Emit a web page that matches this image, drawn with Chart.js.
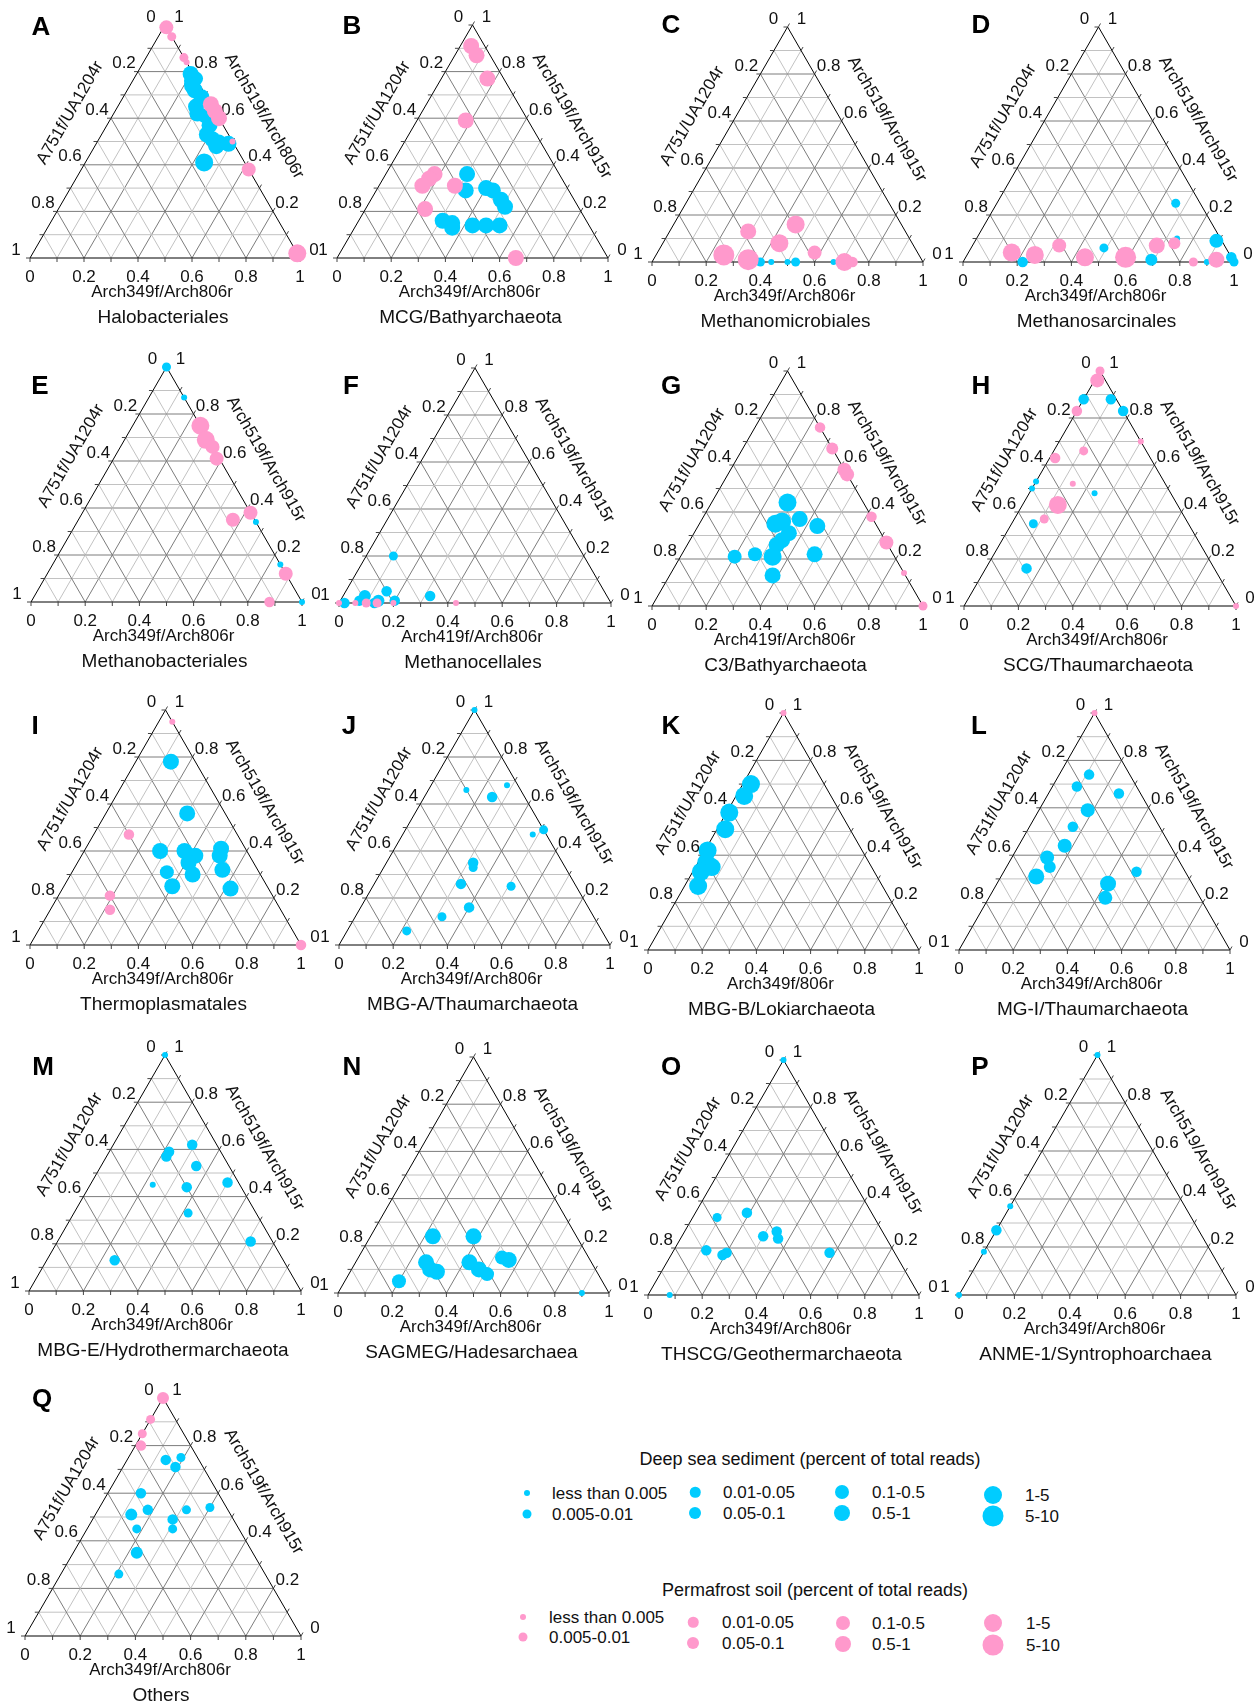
<!DOCTYPE html>
<html>
<head>
<meta charset="utf-8">
<title>Ternary plots of archaeal primer-pair coverage</title>
<script src="https://cdn.jsdelivr.net/npm/chart.js@4.4.1/dist/chart.umd.min.js"></script>
<style>
  html, body { margin: 0; padding: 0; background: #fff; }
  #page { position: relative; width: 1260px; height: 1704px; overflow: hidden;
          font-family: "Liberation Sans", Arial, sans-serif; color: #111; }
  #page canvas { position: absolute; }
  .lg-title { position: absolute; font-size: 18px; transform: translate(-50%, -50%); white-space: nowrap; }
  .lg-dot { position: absolute; border-radius: 50%; transform: translate(-50%, -50%); }
  .lg-text { position: absolute; font-size: 17px; transform: translateY(-50%); white-space: nowrap; line-height: 1; }
</style>
</head>
<body>
<div id="page"></div>
<script>
// ---------- labels ----------
const tickLabels = ['0', '0.2', '0.4', '0.6', '0.8', '1'];
const panelLetters = ['A','B','C','D','E','F','G','H','I','J','K','L','M','N','O','P','Q'];
const panelTitles = ['Halobacteriales','MCG/Bathyarchaeota','Methanomicrobiales','Methanosarcinales',
  'Methanobacteriales','Methanocellales','C3/Bathyarchaeota','SCG/Thaumarchaeota',
  'Thermoplasmatales','MBG-A/Thaumarchaeota','MBG-B/Lokiarchaeota','MG-I/Thaumarchaeota',
  'MBG-E/Hydrothermarchaeota','SAGMEG/Hadesarchaea','THSCG/Geothermarchaeota','ANME-1/Syntrophoarchaea','Others'];
const bottomAxisTitles = ['Arch349f/Arch806r','Arch349f/Arch806r','Arch349f/Arch806r','Arch349f/Arch806r',
  'Arch349f/Arch806r','Arch419f/Arch806r','Arch419f/Arch806r','Arch349f/Arch806r',
  'Arch349f/Arch806r','Arch349f/Arch806r','Arch349f/806r','Arch349f/Arch806r',
  'Arch349f/Arch806r','Arch349f/Arch806r','Arch349f/Arch806r','Arch349f/Arch806r','Arch349f/Arch806r'];
const leftAxisTitles = ['A751f/UA1204r','A751f/UA1204r','A751/UA1204r','A751f/UA1204r',
  'A751f/UA1204r','A751f/UA1204r','A751f/UA1204r','A751f/UA1204r',
  'A751f/UA1204r','A751f/UA1204r','A751f/UA1204r','A751f/UA1204r',
  'A751f/UA1204r','A751f/UA1204r','A751f/UA1204r','A751f/UA1204r','A751f/UA1204r'];
const rightAxisTitles = ['Arch519f/Arch806r','Arch519f/Arch915r','Arch519f/Arch915r','Arch519f/Arch915r',
  'Arch519f/Arch915r','Arch519f/Arch915r','Arch519f/Arch915r','Arch519f/Arch915r',
  'Arch519f/Arch915r','Arch519f/Arch915r','Arch519f/Arch915r','Arch519f/Arch915r',
  'Arch519f/Arch915r','Arch519f/Arch915r','Arch519f/Arch915r','Arch519/Arch915r','Arch519f/Arch915r'];
const abundanceClasses = ['less than 0.005','0.005-0.01','0.01-0.05','0.05-0.1','0.1-0.5','0.5-1','1-5','5-10'];

// ---------- data: [bottom share, left share, right share, abundance class] ----------
const halobacterialesDeep = [[0.20,0.01,0.79,5],[0.22,0.02,0.76,5],[0.23,0.00,0.77,4],[0.23,0.03,0.74,5],
  [0.25,0.03,0.72,5],[0.29,0.02,0.69,5],[0.29,0.06,0.65,5],[0.31,0.07,0.62,5],[0.34,0.05,0.61,4],
  [0.38,0.05,0.57,5],[0.39,0.08,0.53,5],[0.42,0.07,0.51,5],[0.45,0.05,0.50,4],[0.45,0.07,0.48,5],
  [0.49,0.02,0.49,5],[0.44,0.15,0.41,6]];
const halobacterialesPermafrost = [[0.01,0,0.99,4],[0.05,0,0.95,1],[0.14,0,0.86,1],[0.16,0,0.84,0],
  [0.34,0,0.66,5],[0.37,0,0.63,5],[0.40,0,0.60,5],[0.50,0,0.50,0],[0.62,0,0.38,4],[0.98,0,0.02,6]];

const mcgDeep = [[0.30,0.34,0.36,5],[0.33,0.38,0.29,5],[0.40,0.30,0.30,5],[0.43,0.28,0.29,5],
  [0.48,0.27,0.25,5],[0.51,0.27,0.22,5],[0.31,0.53,0.16,5],[0.35,0.50,0.15,5],[0.36,0.51,0.13,5],
  [0.43,0.43,0.14,5],[0.48,0.38,0.14,5],[0.53,0.33,0.14,5]];
const mcgPermafrost = [[0.04,0.05,0.91,5],[0.08,0.05,0.87,5],[0.17,0.06,0.77,5],[0.18,0.23,0.59,5],
  [0.18,0.46,0.36,5],[0.17,0.49,0.34,5],[0.16,0.53,0.31,5],[0.28,0.41,0.31,5],[0.22,0.57,0.21,5],
  [0.66,0.34,0.00,5]];

const methanomicrobialesDeep = [[0.40,0.60,0,1],[0.44,0.56,0,0],[0.50,0.50,0,0],[0.53,0.47,0,1],[0.67,0.33,0,0]];
const methanomicrobialesPermafrost = [[0.29,0.58,0.13,5],[0.45,0.39,0.16,6],[0.43,0.49,0.08,6],
  [0.25,0.72,0.03,7],[0.35,0.64,0.01,7],[0.58,0.38,0.04,4],[0.71,0.29,0.00,6],[0.74,0.26,0.00,2]];

const methanosarcinalesDeep = [[0.66,0.09,0.25,1],[0.74,0.16,0.10,0],[0.89,0.02,0.09,4],[0.49,0.45,0.06,1],
  [0.22,0.78,0.00,2],[0.69,0.30,0.01,3],[0.90,0.10,0.00,0],[0.98,0.00,0.02,2],[1.00,0.00,0.00,1]];
const methanosarcinalesPermafrost = [[0.16,0.80,0.04,6],[0.25,0.72,0.03,6],[0.32,0.61,0.07,4],
  [0.44,0.54,0.02,6],[0.59,0.39,0.02,7],[0.68,0.25,0.07,5],[0.74,0.18,0.08,3],[0.85,0.15,0.00,1],
  [0.93,0.06,0.01,5]];

const methanobacterialesDeep = [[0,0,1,1],[0.13,0,0.87,0],[0.66,0,0.34,0],[0.84,0,0.16,0],[1,0,0,0]];
const methanobacterialesPermafrost = [[0.25,0,0.75,6],[0.30,0.01,0.69,6],[0.34,0,0.66,4],[0.38,0.01,0.61,4],
  [0.62,0,0.38,4],[0.57,0.08,0.35,4],[0.88,0,0.12,4],[0.88,0.12,0,2]];

const methanocellalesDeep = [[0.10,0.70,0.20,1],[0.15,0.80,0.05,2],[0.08,0.89,0.03,3],[0.07,0.92,0.01,2],
  [0.14,0.85,0.01,3],[0.20,0.79,0.01,2],[0.32,0.65,0.03,2],[0.02,0.98,0,2],[0.13,0.87,0,2]];
const methanocellalesPermafrost = [[0,1,0,0],[0.06,0.94,0,0],[0.10,0.90,0,1],[0.14,0.86,0,1],
  [0.20,0.80,0,0],[0.43,0.57,0,0]];

const c3Deep = [[0.28,0.28,0.44,6],[0.28,0.37,0.35,6],[0.30,0.34,0.36,6],[0.36,0.27,0.37,5],
  [0.44,0.22,0.34,5],[0.35,0.34,0.31,5],[0.34,0.38,0.28,5],[0.33,0.41,0.26,5],[0.34,0.45,0.21,6],
  [0.20,0.59,0.21,4],[0.27,0.51,0.22,4],[0.49,0.29,0.22,5],[0.38,0.49,0.13,5]];
const c3Permafrost = [[0.24,0,0.76,2],[0.33,0,0.67,3],[0.42,0,0.58,4],[0.44,0,0.56,4],
  [0.62,0,0.38,2],[0.73,0,0.27,4],[0.86,0,0.14,0],[1,0,0,1]];

const scgDeep = [[0,0.12,0.88,2],[0.10,0.02,0.88,2],[0.17,0,0.83,2],[0,0.47,0.53,0],[0,0.50,0.50,0],
  [0.24,0.28,0.48,0],[0.08,0.57,0.35,1],[0.15,0.69,0.16,2]];
const scgPermafrost = [[0,0,1,1],[0.01,0.03,0.96,4],[0,0.17,0.83,2],[0.30,0,0.70,0],[0.11,0.23,0.66,1],
  [0.02,0.35,0.63,2],[0.14,0.34,0.52,0],[0.13,0.44,0.43,6],[0.11,0.52,0.37,1],[1,0,0,0]];

const thermoplasmatalesDeep = [[0.13,0.09,0.78,5],[0.30,0.14,0.56,5],[0.28,0.32,0.40,5],[0.37,0.23,0.40,5],
  [0.42,0.20,0.38,5],[0.41,0.24,0.35,5],[0.50,0.09,0.41,5],[0.51,0.11,0.38,5],[0.55,0.13,0.32,5],
  [0.35,0.34,0.31,4],[0.45,0.25,0.30,5],[0.40,0.35,0.25,5],[0.62,0.14,0.24,5]];
const thermoplasmatalesPermafrost = [[0.05,0,0.95,0],[0.13,0.40,0.47,2],[0.19,0.60,0.21,2],
  [0.22,0.63,0.15,2],[1,0,0,2]];

const mbgaDeep = [[0,0,1,0],[0.28,0.04,0.68,0],[0.14,0.20,0.66,0],[0.25,0.12,0.63,2],[0.51,0,0.49,1],
  [0.48,0.05,0.47,0],[0.32,0.33,0.35,2],[0.33,0.34,0.33,1],[0.32,0.42,0.26,2],[0.51,0.24,0.25,1],
  [0.40,0.44,0.16,2],[0.32,0.56,0.12,1],[0.22,0.72,0.06,1]];
const mbgaPermafrost = [];

const mbgbDeep = [[0.03,0.27,0.70,6],[0.03,0.32,0.65,6],[0.01,0.41,0.58,6],[0.03,0.46,0.51,6],
  [0.01,0.57,0.42,6],[0.03,0.60,0.37,6],[0.06,0.59,0.35,6],[0.03,0.64,0.33,6],[0.05,0.68,0.27,6]];
const mbgbPermafrost = [[0,0,1,0]];

const mg1Deep = [[0.11,0.15,0.74,2],[0.09,0.22,0.69,2],[0.26,0.08,0.66,2],[0.18,0.23,0.59,4],
  [0.16,0.32,0.52,2],[0.17,0.39,0.44,4],[0.13,0.48,0.39,4],[0.16,0.49,0.35,3],[0.13,0.56,0.31,5],
  [0.49,0.18,0.33,2],[0.41,0.31,0.28,5],[0.43,0.35,0.22,4]];
const mg1Permafrost = [[0,0,1,0]];

const mbgeDeep = [[0,0,1,0],[0.29,0.09,0.62,2],[0.22,0.19,0.59,2],[0.22,0.21,0.57,2],[0.35,0.12,0.53,2],
  [0.50,0.04,0.46,2],[0.23,0.32,0.45,0],[0.36,0.20,0.44,2],[0.42,0.25,0.33,1],[0.71,0.08,0.21,2],
  [0.25,0.62,0.13,2]];
const mbgePermafrost = [];

const sagmegDeep = [[0.23,0.53,0.24,5],[0.38,0.38,0.24,5],[0.26,0.61,0.13,5],[0.29,0.61,0.10,5],
  [0.32,0.59,0.09,5],[0.42,0.45,0.13,5],[0.47,0.43,0.10,5],[0.51,0.41,0.08,4],[0.53,0.32,0.15,4],
  [0.56,0.30,0.14,5],[0.20,0.75,0.05,4],[0.90,0.10,0,0]];
const sagmegPermafrost = [];

const thscgDeep = [[0,0,1,0],[0.19,0.46,0.35,2],[0.09,0.58,0.33,1],[0.30,0.45,0.25,2],[0.34,0.39,0.27,2],
  [0.36,0.40,0.24,2],[0.12,0.69,0.19,2],[0.19,0.64,0.17,2],[0.20,0.62,0.18,2],[0.58,0.24,0.18,2],
  [0.08,0.92,0,0]];
const thscgPermafrost = [];

const anme1Deep = [[0,0,1,0],[0,0.63,0.37,0],[0,0.73,0.27,2],[0,0.82,0.18,0],[0,1,0,0]];
const anme1Permafrost = [];

const othersDeep = [[0.19,0.06,0.75,1],[0.14,0.12,0.74,2],[0.19,0.10,0.71,2],[0.12,0.28,0.60,2],
  [0.13,0.36,0.51,3],[0.18,0.29,0.53,2],[0.32,0.15,0.53,1],[0.40,0.06,0.54,1],[0.29,0.22,0.49,2],
  [0.18,0.37,0.45,1],[0.31,0.24,0.45,1],[0.23,0.42,0.35,3],[0.21,0.53,0.26,1]];
const othersPermafrost = [[0,0,1,3],[0,0.09,0.91,1],[0,0.15,0.85,1],[0.02,0.18,0.80,2]];

const panelData = [
  [halobacterialesDeep, halobacterialesPermafrost], [mcgDeep, mcgPermafrost],
  [methanomicrobialesDeep, methanomicrobialesPermafrost], [methanosarcinalesDeep, methanosarcinalesPermafrost],
  [methanobacterialesDeep, methanobacterialesPermafrost], [methanocellalesDeep, methanocellalesPermafrost],
  [c3Deep, c3Permafrost], [scgDeep, scgPermafrost],
  [thermoplasmatalesDeep, thermoplasmatalesPermafrost], [mbgaDeep, mbgaPermafrost],
  [mbgbDeep, mbgbPermafrost], [mg1Deep, mg1Permafrost],
  [mbgeDeep, mbgePermafrost], [sagmegDeep, sagmegPermafrost],
  [thscgDeep, thscgPermafrost], [anme1Deep, anme1Permafrost],
  [othersDeep, othersPermafrost]
];

// ---------- styling and placement ----------
const CYAN = '#00CCFF', PINK = '#FF99CC';
const RADII = [3, 4.5, 5.25, 6, 7, 8, 9, 10.5];
const FONT = '"Liberation Sans", Arial, sans-serif';
// triangle boxes: [left, right, apexY, baseY]
const panelBoxes = [
  [30,300,25,258],[337,608,25,258],[652,923,27,262],[963,1234,27,262],
  [31,302,367,602],[339,611,368,603],[652,923,371,606],[964,1236,371,606],
  [30,301,710,945],[339,610,710,945],[648,919,713,950],[959,1230,713,950],
  [29,301,1055,1291],[338,609,1057,1293],[648,919,1060,1295],[959,1236,1055,1295],
  [25,301,1398,1636]];
const letterCentres = [[41,28],[352,27],[671,26],[981,26],[40,387],[351,387],[671,387],[981,387],
  [35,727],[349,727],[671,727],[979,727],[43,1068],[352,1068],[671,1068],[980,1068],[42,1400]];
const PAD = { left: 34, right: 34, top: 32, bottom: 82 };

// Ternary frame: grid, edges, ticks and all axis text, drawn from the chart's own scales.
const ternaryFrame = {
  id: 'ternaryFrame',
  beforeDatasetsDraw(chart, _args, o) {
    const { ctx } = chart;
    const xs = chart.scales.x, ys = chart.scales.y;
    const P = (b, r) => [xs.getPixelForValue(b + r / 2), ys.getPixelForValue(r)];
    const seg = (a, b) => { ctx.beginPath(); ctx.moveTo(a[0], a[1]); ctx.lineTo(b[0], b[1]); ctx.stroke(); };
    ctx.save();
    ctx.lineWidth = 1;
    for (let i = 1; i < 10; i++) {
      const t = i / 10;
      ctx.strokeStyle = i % 2 ? '#c2c2c2' : '#7c7c7c';
      seg(P(0, t), P(1 - t, t));
      seg(P(t, 0), P(t, 1 - t));
      seg(P(1 - t, 0), P(0, 1 - t));
    }
    const bl = P(0, 0), br = P(1, 0), ap = P(0, 1);
    ctx.strokeStyle = '#000';
    ctx.beginPath(); ctx.moveTo(bl[0], bl[1]); ctx.lineTo(br[0], br[1]); ctx.lineTo(ap[0], ap[1]);
    ctx.closePath(); ctx.stroke();
    ctx.strokeStyle = '#444';
    for (let i = 0; i <= 10; i++) {
      const t = i / 10;
      const pb = P(t, 0); seg(pb, [pb[0], pb[1] + 4]);
      const pl = P(0, t); seg(pl, [pl[0] - 4, pl[1]]);
      const pr = P(1 - t, t); seg(pr, [pr[0] + 2, pr[1] - 3.5]);
    }
    ctx.fillStyle = '#111';
    ctx.textAlign = 'center';
    ctx.textBaseline = 'middle';
    ctx.font = '17px ' + FONT;
    tickLabels.forEach((lab, k) => {
      const v = k / 5;
      const pb = P(v, 0); ctx.fillText(lab, pb[0], pb[1] + 19);
      const pl = P(0, 1 - v); ctx.fillText(lab, pl[0] - 14, pl[1] - 8);
      const pr = P(1 - v, v); ctx.fillText(lab, pr[0] + 14, pr[1] - 8);
    });
    const cx = (bl[0] + br[0]) / 2;
    ctx.fillText(o.bottomTitle, cx - 3, bl[1] + 34);
    // rotated edge titles
    const along = (from, to, nOut, shift, text, flip) => {
      const dx = to[0] - from[0], dy = to[1] - from[1], len = Math.hypot(dx, dy);
      const d = [dx / len, dy / len];
      const n = flip ? [-d[1], d[0]] : [d[1], -d[0]];
      const mx = (from[0] + to[0]) / 2 + nOut * n[0] + shift * d[0];
      const my = (from[1] + to[1]) / 2 + nOut * n[1] + shift * d[1];
      ctx.save();
      ctx.translate(mx, my);
      ctx.rotate(flip ? Math.atan2(-d[1], -d[0]) : Math.atan2(d[1], d[0]));
      ctx.fillText(text, 0, 0);
      ctx.restore();
    };
    along(bl, ap, 38, 11, o.leftTitle, false);
    along(br, ap, 40, 6, o.rightTitle, true);
    ctx.font = '19px ' + FONT;
    ctx.fillText(o.title, cx - 2, bl[1] + 60);
    ctx.font = 'bold 26px ' + FONT;
    ctx.fillStyle = '#000';
    ctx.fillText(o.letter, o.letterAt[0], o.letterAt[1]);
    ctx.restore();
  }
};

function toPoints(rows) {
  return rows.map(([b, l, r, s]) => {
    const sum = b + l + r;
    const bb = b / sum, rr = r / sum;
    return { x: bb + rr / 2, y: rr, s };
  });
}

const page = document.getElementById('page');
panelLetters.forEach((letter, i) => {
  const [L, R, T, B] = panelBoxes[i];
  const w = R - L + PAD.left + PAD.right, h = B - T + PAD.top + PAD.bottom;
  const ox = L - PAD.left, oy = T - PAD.top;
  const canvas = document.createElement('canvas');
  canvas.width = w; canvas.height = h;
  canvas.style.width = w + 'px'; canvas.style.height = h + 'px';
  canvas.style.left = ox + 'px'; canvas.style.top = oy + 'px';
  page.appendChild(canvas);
  const [deep, perma] = panelData[i];
  const radius = ctx => RADII[ctx.raw ? ctx.raw.s : 0];
  new Chart(canvas, {
    type: 'scatter',
    data: {
      datasets: [
        { label: 'Permafrost soil', data: toPoints(perma), backgroundColor: PINK, borderWidth: 0,
          pointRadius: radius, order: 0, clip: false },
        { label: 'Deep sea sediment', data: toPoints(deep), backgroundColor: CYAN, borderWidth: 0,
          pointRadius: radius, order: 1, clip: false }
      ]
    },
    options: {
      responsive: false,
      animation: false,
      devicePixelRatio: 1,
      events: [],
      layout: { autoPadding: false, padding: PAD },
      scales: {
        x: { type: 'linear', min: 0, max: 1, display: false },
        y: { type: 'linear', min: 0, max: 1, display: false }
      },
      plugins: {
        legend: { display: false },
        tooltip: { enabled: false },
        ternaryFrame: {
          letter, title: panelTitles[i], bottomTitle: bottomAxisTitles[i],
          leftTitle: leftAxisTitles[i], rightTitle: rightAxisTitles[i],
          letterAt: [letterCentres[i][0] - ox, letterCentres[i][1] - oy]
        }
      }
    },
    plugins: [ternaryFrame]
  });
});

// ---------- size legends ----------
const legendGroups = [
  { title: 'Deep sea sediment (percent of total reads)', color: CYAN, titleAt: [810, 1459],
    dotX: [527, 695, 842, 993], textX: [552, 723, 872, 1025],
    rowY: [[1493, 1514], [1492, 1513], [1492, 1513], [1495, 1516]] },
  { title: 'Permafrost soil (percent of total reads)', color: PINK, titleAt: [815, 1590],
    dotX: [523, 693, 843, 993], textX: [549, 722, 872, 1026],
    rowY: [[1617, 1637], [1622, 1643], [1623, 1644], [1623, 1645]] }
];
legendGroups.forEach(g => {
  const t = document.createElement('div');
  t.className = 'lg-title'; t.textContent = g.title;
  t.style.left = g.titleAt[0] + 'px'; t.style.top = g.titleAt[1] + 'px';
  page.appendChild(t);
  abundanceClasses.forEach((lab, k) => {
    const col = Math.floor(k / 2), row = k % 2, y = g.rowY[col][row];
    const d = document.createElement('div');
    d.className = 'lg-dot';
    const dia = RADII[k] * 2;
    d.style.width = dia + 'px'; d.style.height = dia + 'px';
    d.style.background = g.color;
    d.style.left = g.dotX[col] + 'px'; d.style.top = y + 'px';
    page.appendChild(d);
    const s = document.createElement('div');
    s.className = 'lg-text'; s.textContent = lab;
    s.style.left = g.textX[col] + 'px'; s.style.top = y + 'px';
    page.appendChild(s);
  });
});
</script>
</body>
</html>
